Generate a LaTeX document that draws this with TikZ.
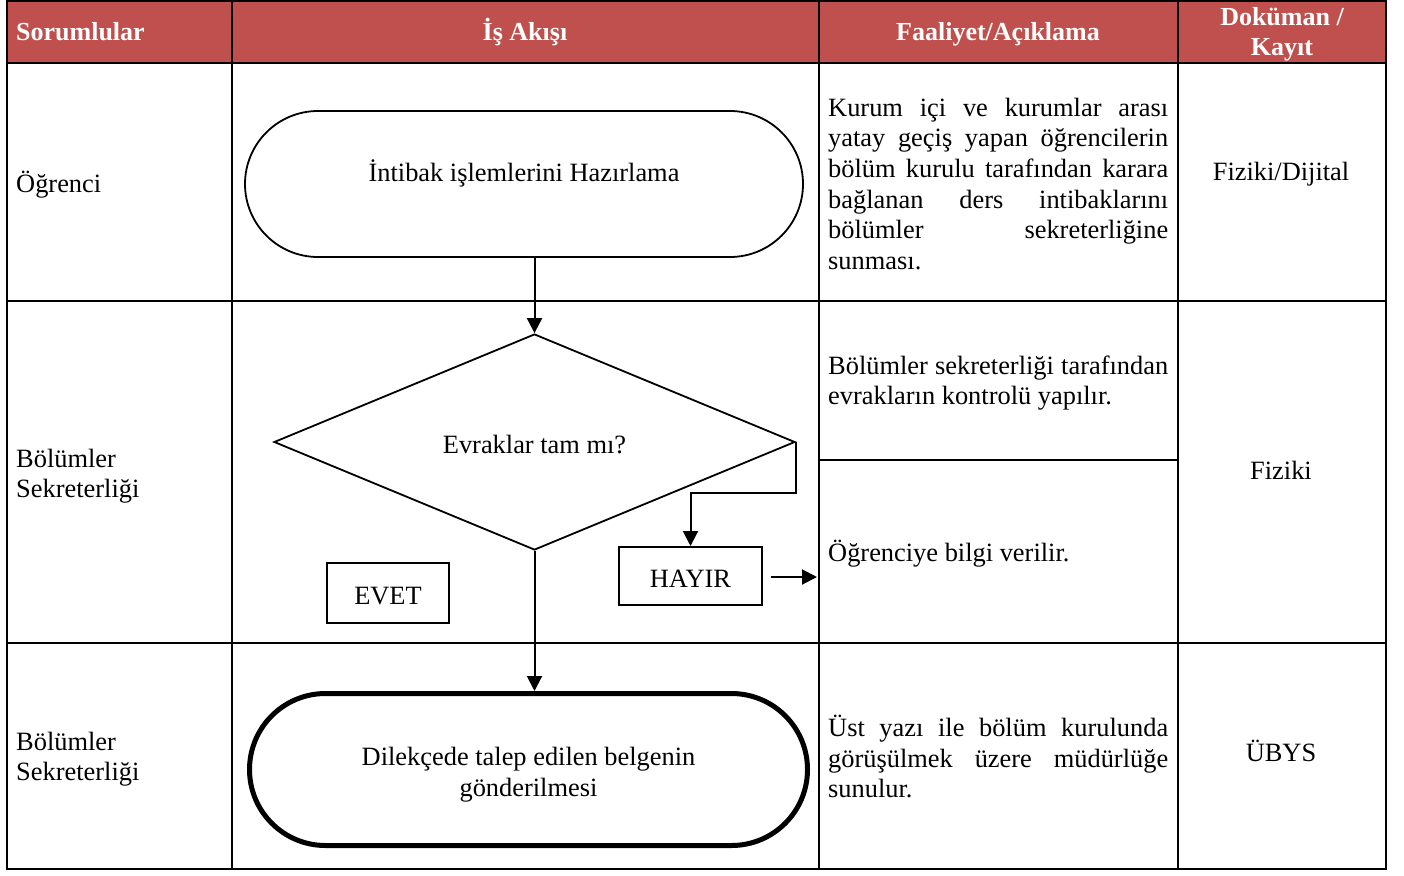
\documentclass[tikz,border=0pt]{standalone}
\usepackage{fontspec}
\setmainfont{Liberation Serif}
\usetikzlibrary{shapes.geometric,arrows.meta,calc}
\definecolor{hdr}{HTML}{C0504D}
\newcommand{\jl}[1]{\makebox[340pt][s]{#1}}
\newcommand{\stt}{\rule{0pt}{20pt}}
\begin{document}
\begin{tikzpicture}[x=1pt,y=-1pt,
  font=\fontsize{26.4}{30.6}\selectfont,
  grid/.style={line width=2pt},
  hdrtext/.style={text=white,font=\fontsize{26}{30}\selectfont\bfseries,inner sep=0},
  txt/.style={inner sep=0,anchor=base west},
  ctxt/.style={inner sep=0,anchor=base},
  para/.style={inner sep=0,anchor=north west,align=left},
  arr/.style={line width=2pt,-{Triangle[length=15pt,width=15pt]}},
  boxnode/.style={draw,line width=2pt,inner sep=0},
  termnode/.style={draw,rectangle,inner sep=0}]
\useasboundingbox (0,0) rectangle (1404,875);
% header
\fill[hdr] (7,1) rectangle (1386,63);
% grid
\draw[grid] (7,1) rectangle (1386,869);
\draw[grid] (7,63) -- (1386,63);
\draw[grid] (7,301) -- (1386,301);
\draw[grid] (7,643) -- (1386,643);
\draw[grid] (819,460) -- (1178,460);
\draw[grid] (232,1) -- (232,869);
\draw[grid] (819,1) -- (819,869);
\draw[grid] (1178,1) -- (1178,869);
% header texts
\node[hdrtext,anchor=base west] (h1) at (16,41) {Sorumlular};
\node[hdrtext,anchor=base] (h2) at (525,41) {İş Akışı};
\node[hdrtext,anchor=base] (h3) at (998,41) {Faaliyet/Açıklama};
\node[hdrtext,anchor=north,align=center,font=\fontsize{26}{30}\selectfont\bfseries] (h4) at (1282,5) {\stt Doküman /\\Kayıt};
% responsible
\node[txt] (r1) at (16,192) {Öğrenci};
\node[para] (r2) at (16,447) {\stt Bölümler\\Sekreterliği};
\node[para] (r3) at (16,730) {\stt Bölümler\\Sekreterliği};
% descriptions
\node[para] (f1) at (828,96) {\stt\jl{Kurum içi ve kurumlar arası}\\\jl{yatay geçiş yapan öğrencilerin}\\\jl{bölüm kurulu tarafından karara}\\\jl{bağlanan ders intibaklarını}\\\jl{bölümler sekreterliğine}\\sunması.};
\node[para] (f2) at (828,354) {\stt\jl{Bölümler sekreterliği tarafından}\\evrakların kontrolü yapılır.};
\node[txt] (f3) at (828,561) {Öğrenciye bilgi verilir.};
\node[para] (f4) at (828,715) {\stt\jl{Üst yazı ile bölüm kurulunda}\\\jl{görüşülmek üzere müdürlüğe}\\sunulur.};
% documents
\node[ctxt] (k1) at (1281,180) {Fiziki/Dijital};
\node[ctxt] (k2) at (1281,479) {Fiziki};
\node[ctxt] (k3) at (1281,761) {ÜBYS};
% flow
\node[termnode,line width=1.8pt,rounded corners=73pt,minimum width=558pt,minimum height=146pt,text height=10pt,text depth=16pt] (t1) at (524,184) {İntibak işlemlerini Hazırlama};
\node[draw,diamond,line width=1.8pt,minimum width=521pt,minimum height=216pt,inner sep=0,text height=22pt,text depth=0pt] (d) at (534.5,442) {Evraklar tam mı?};
\node[boxnode,minimum width=143pt,minimum height=58pt,text height=22pt,text depth=0pt] (hayir) at (690.5,576) {HAYIR};
\node[boxnode,minimum width=122pt,minimum height=60pt,text height=22pt,text depth=0pt] (evet) at (388,593) {EVET};
\node[termnode,line width=5pt,rounded corners=76pt,minimum width=558pt,minimum height=152pt,align=center,font=\fontsize{26.4}{31}\selectfont] (t2) at (528.5,769.5) {\rule{0pt}{29pt}Dilekçede talep edilen belgenin\\gönderilmesi};
% connectors
\draw[arr] (t1.south -| d.north) -- (d.north);
\draw[arr] (d.east) -- ++(0,51) -| (hayir.north);
\coordinate (a0) at (771,577);
\coordinate (a1) at (817,577);
\draw[arr] (a0) -- (a1);
\draw[arr] (d.south) -- (d.south |- t2.north);
\end{tikzpicture}
\end{document}
